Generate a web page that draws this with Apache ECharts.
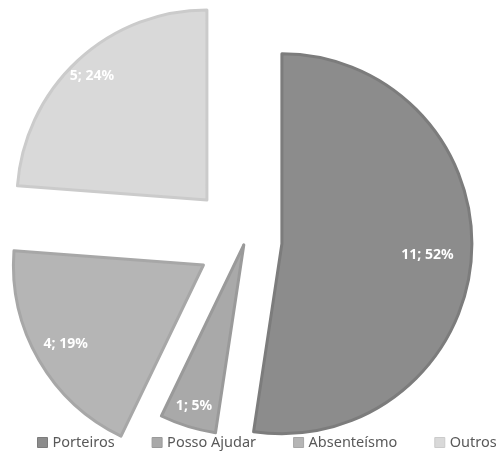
<!DOCTYPE html>
<html>
<head>
<meta charset="utf-8">
<script src="https://cdn.jsdelivr.net/npm/echarts@6/dist/echarts.min.js"></script>
<style>
  html, body { margin: 0; padding: 0; background: #fff; }
  #chart { width: 497px; height: 454px; }
</style>
</head>
<body>
<div id="chart"></div>
<script>
// data
const names = ["Porteiros", "Posso Ajudar", "Absenteísmo", "Outros"];
const values = [11, 1, 4, 5];

// look
const colors = ["#8c8c8c", "#a9a9a9", "#b5b5b5", "#d9d9d9"];
const borders = ["#7c7c7c", "#9a9a9a", "#a7a7a7", "#cbcbcb"];
// exploded distance of each slice and where its label sits (px from tip)
const explode = [37, 4, 48, 56];
const labelDist = [143, 166, 156, 166];
const CX = 245, CY = 241, R = 190;

const chart = echarts.init(document.getElementById("chart"));
const total = values.reduce((a, b) => a + b, 0);
const hidden = { color: "rgba(0,0,0,0)", borderWidth: 0 };

const series = [];
let cum = 0;
names.forEach((name, i) => {
  const mid = ((cum + values[i] / 2) / total) * 2 * Math.PI;
  cum += values[i];
  const cx = CX + explode[i] * Math.sin(mid);
  const cy = CY - explode[i] * Math.cos(mid);

  // the slice itself
  series.push({
    type: "pie",
    center: [cx, cy],
    radius: [0, R],
    silent: true,
    label: { show: false },
    labelLine: { show: false },
    data: names.map((n, j) => ({
      name: n,
      value: values[j],
      itemStyle: j === i ? { color: colors[i], borderColor: borders[i], borderWidth: 3 } : hidden,
    })),
  });

  // invisible ring just to put the label at the right distance
  series.push({
    type: "pie",
    center: [cx, cy],
    radius: [2 * labelDist[i] - R, R],
    silent: true,
    itemStyle: hidden,
    labelLine: { show: false },
    data: names.map((n, j) => ({
      name: n,
      value: values[j],
      label: { show: j === i },
    })),
    label: {
      position: "inside",
      color: "#fff",
      fontSize: 14,
      fontWeight: "bold",
      fontFamily: "Noto Sans",
      formatter: (p) => p.value + "; " + Math.round(p.percent) + "%",
    },
  });
});

const option = {
  animation: false,
  backgroundColor: "#fff",
  legend: {
    left: 37,
    top: 435,
    width: 500,
    padding: 0,
    icon: "rect",
    itemWidth: 10,
    itemHeight: 10,
    itemGap: 37,
    textStyle: { color: "#595959", fontSize: 14.5, fontFamily: "Noto Sans" },
    data: names.map((n, i) => ({
      name: n,
      itemStyle: { color: colors[i], borderColor: borders[i], borderWidth: 1 },
    })),
  },
  series: series,
};
chart.setOption(option);
</script>
</body>
</html>
